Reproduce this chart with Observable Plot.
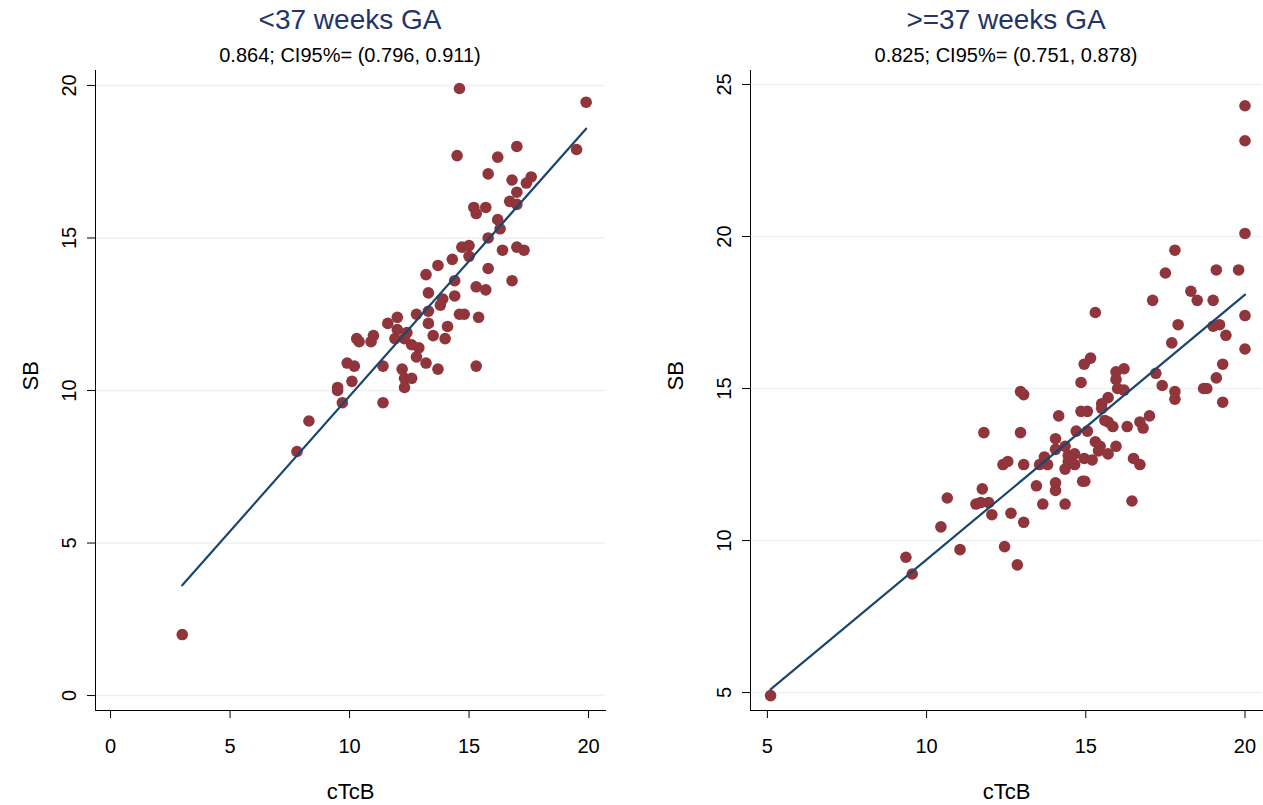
<!DOCTYPE html>
<html><head><meta charset="utf-8">
<script src="https://cdn.jsdelivr.net/npm/d3@7"></script>
<script src="https://cdn.jsdelivr.net/npm/@observablehq/plot@0.6"></script>
<style>
body{margin:0;background:#fff;font-family:"Liberation Sans",Arial,sans-serif;}
#wrap{position:relative;width:1263px;height:805px;overflow:hidden;background:#fff;}
.title{position:absolute;text-align:center;color:#22356a;font-size:28px;line-height:28px;white-space:nowrap;}
.sub{position:absolute;text-align:center;color:#000;font-size:20px;line-height:20px;white-space:nowrap;}
.panel{position:absolute;top:70px;}
</style></head><body><div id="wrap"></div>
<script>
// ---- data: <37 weeks GA ----
const pretermCTcB = [3.0,7.8,8.3,9.7,11.4,9.5,9.5,10.1,12.3,9.9,10.2,11.4,12.2,13.7,12.3,12.6,12.8,13.2,12.6,12.9,10.3,10.4,11.0,10.9,11.9,12.3,14.0,13.5,12.0,12.4,11.6,12.0,13.3,14.1,12.8,13.3,13.3,13.9,13.8,14.4,13.7,13.2,15.8,14.4,15.3,15.7,16.8,14.6,14.8,15.4,15.3,14.3,15.0,14.7,15.0,16.4,17.0,17.3,15.8,16.2,16.3,15.2,15.3,15.7,16.7,17.0,17.0,17.6,17.4,16.8,15.8,14.5,16.2,17.0,19.5,19.9,14.6];
const pretermSB   = [2.0,8.0,9.0,9.6,9.6,10.1,10.0,10.3,10.1,10.9,10.8,10.8,10.7,10.7,10.4,10.4,11.1,10.9,11.5,11.4,11.7,11.6,11.8,11.6,11.7,11.7,11.7,11.8,12.0,11.9,12.2,12.4,12.2,12.1,12.5,12.6,13.2,13.0,12.8,13.1,14.1,13.8,14.0,13.6,13.4,13.3,13.6,12.5,12.5,12.4,10.8,14.3,14.4,14.7,14.75,14.6,14.7,14.6,15.0,15.6,15.3,16.0,15.8,16.0,16.2,16.1,16.5,17.0,16.8,16.9,17.1,17.7,17.65,18.0,17.9,19.45,19.9];
// ---- data: >=37 weeks GA ----
const termCTcB = [5.1,9.35,9.55,10.45,10.65,11.05,11.55,11.7,11.95,11.75,12.05,12.65,13.05,12.45,12.85,13.45,13.65,14.35,14.05,14.05,14.9,14.97,14.35,12.4,12.55,13.05,13.7,13.55,13.8,14.45,14.65,14.45,14.65,14.95,15.2,16.5,16.7,16.45,14.35,14.05,14.05,14.7,15.05,15.3,15.45,15.4,15.7,15.95,15.6,15.7,15.85,16.3,16.7,16.8,17.0,14.15,14.85,15.05,15.7,15.5,15.5,12.95,11.8,12.95,13.05,14.85,15.95,15.95,16.2,16.0,16.2,17.2,17.4,17.8,17.8,18.7,18.8,19.1,19.3,19.3,15.15,14.95,17.7,20.0,19.4,19.0,19.2,17.9,15.3,20.0,17.1,18.5,19.0,18.3,17.5,19.1,19.8,17.8,20.0,20.0,20.0];
const termSB   = [4.9,9.45,8.9,10.45,11.4,9.7,11.2,11.25,11.25,11.7,10.85,10.9,10.6,9.8,9.2,11.8,11.2,11.2,11.9,11.65,11.95,11.95,12.35,12.5,12.6,12.5,12.75,12.5,12.5,12.8,12.85,12.6,12.5,12.7,12.65,12.7,12.5,11.3,13.1,13.0,13.35,13.6,13.6,13.25,13.1,12.95,12.85,13.1,13.95,13.9,13.75,13.75,13.9,13.7,14.1,14.1,14.25,14.25,14.7,14.5,14.35,13.55,13.55,14.9,14.8,15.2,15.55,15.3,15.65,15.0,14.95,15.5,15.1,14.9,14.65,15.0,15.0,15.35,14.55,15.8,16.0,15.8,16.5,16.3,16.75,17.05,17.1,17.1,17.5,17.4,17.9,17.9,17.9,18.2,18.8,18.9,18.9,19.55,20.1,23.15,24.3];
// ---- ticks & text ----
const pretermXTicks = [0,5,10,15,20];
const pretermYTicks = [0,5,10,15,20];
const termXTicks = [5,10,15,20];
const termYTicks = [5,10,15,20,25];
const panelTitles = ["<37 weeks GA", ">=37 weeks GA"];
const panelSubtitles = ["0.864; CI95%= (0.796, 0.911)", "0.825; CI95%= (0.751, 0.878)"];
const xTitle = "cTcB";
const yTitle = "SB";

const FONT = '"Liberation Sans", Arial, sans-serif';
const wrap = document.getElementById("wrap");

function makePanel(cfg) {
  const data = cfg.x.map((v, i) => ({cTcB: v, SB: cfg.y[i]}));
  const plotW = cfg.width - cfg.marginLeft - cfg.marginRight;
  const t = document.createElement("div");
  t.className = "title";
  t.style.left = (cfg.left + cfg.marginLeft) + "px";
  t.style.width = plotW + "px";
  t.style.top = "6px";
  t.textContent = cfg.title;
  wrap.appendChild(t);
  const s = document.createElement("div");
  s.className = "sub";
  s.style.left = (cfg.left + cfg.marginLeft) + "px";
  s.style.width = plotW + "px";
  s.style.top = "45px";
  s.textContent = cfg.subtitle;
  wrap.appendChild(s);

  const svg = Plot.plot({
    width: cfg.width,
    height: 735,
    marginTop: 0,
    marginBottom: 95,
    marginLeft: cfg.marginLeft,
    marginRight: cfg.marginRight,
    style: {fontFamily: FONT, fontSize: "20px", color: "#000", background: "transparent", overflow: "visible"},
    x: {domain: cfg.xDomain, ticks: cfg.xTicks},
    y: {domain: cfg.yDomain, ticks: cfg.yTicks},
    marks: [
      Plot.gridY(cfg.yTicks, {stroke: "#EAF2F3", strokeOpacity: 1, strokeWidth: 1.5}),
      Plot.frame({anchor: "left", stroke: "#000", strokeWidth: 1}),
      Plot.frame({anchor: "bottom", stroke: "#000", strokeWidth: 1}),
      Plot.axisX(cfg.xTicks, {tickSize: 8, tickPadding: 20, fontSize: 20, label: null}),
      Plot.axisY(cfg.yTicks, {tickSize: 8, tickPadding: 12, tickRotate: -90, fontSize: 20, label: null}),
      Plot.dot(data, {x: "cTcB", y: "SB", r: 5.8, fill: "#90353B", stroke: "none"}),
      Plot.linearRegressionY(data, {x: "cTcB", y: "SB", stroke: "#1A476F", strokeWidth: 2.2, ci: 0}),
      Plot.text([xTitle], {text: d => d, frameAnchor: "bottom", dy: 88, fontSize: 22, fill: "#000"}),
      Plot.text([yTitle], {text: d => d, frameAnchor: "left", dx: cfg.yTitleDx, rotate: -90, fontSize: 22, fill: "#000"})
    ]
  });
  const p = document.createElement("div");
  p.className = "panel";
  p.style.left = cfg.left + "px";
  p.appendChild(svg);
  wrap.appendChild(p);
}

makePanel({
  x: pretermCTcB, y: pretermSB, xTicks: pretermXTicks, yTicks: pretermYTicks,
  xDomain: [-0.63, 20.71], yDomain: [-0.49, 20.49],
  left: 0, width: 631, marginLeft: 95, marginRight: 26, yTitleDx: -65,
  title: panelTitles[0], subtitle: panelSubtitles[0]
});
makePanel({
  x: termCTcB, y: termSB, xTicks: termXTicks, yTicks: termYTicks,
  xDomain: [4.47, 20.55], yDomain: [4.41, 25.46],
  left: 631, width: 632, marginLeft: 119, marginRight: 1, yTitleDx: -75,
  title: panelTitles[1], subtitle: panelSubtitles[1]
});
</script></body></html>
